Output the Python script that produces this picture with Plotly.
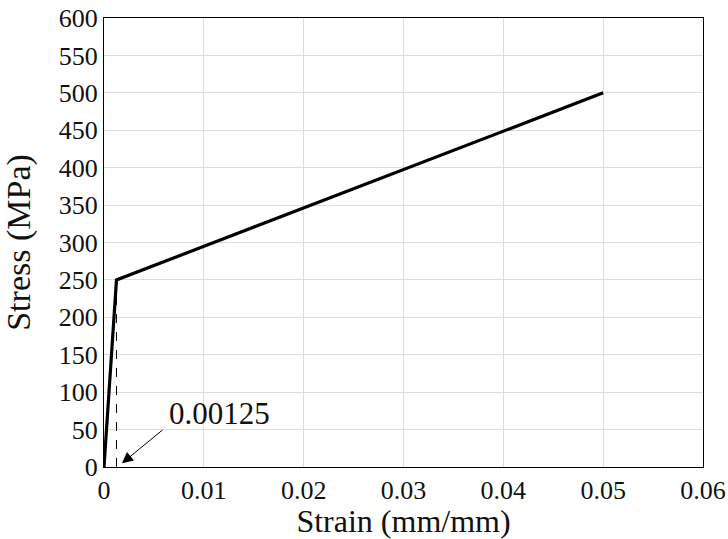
import plotly.graph_objects as go

strain = [0, 0.00125, 0.05]
stress = [0, 250, 500]
yield_strain = [0.00125, 0.00125]
yield_guide = [0, 250]
x_ticks = [0, 0.01, 0.02, 0.03, 0.04, 0.05, 0.06]
x_tick_labels = ["0", "0.01", "0.02", "0.03", "0.04", "0.05", "0.06"]
y_ticks = list(range(0, 601, 50))
annot_label = "0.00125"
arrow_tail = (0.0060, 51)
arrow_head = (0.0018, 5)
label_pos = (0.01152, 72)

FONT = "Liberation Serif"
TXT = "#111111"

fig = go.Figure()
fig.add_trace(go.Scatter(x=yield_strain, y=yield_guide, mode="lines",
                         line=dict(color="black", width=1, dash="dash"),
                         showlegend=False, hoverinfo="skip"))
fig.add_trace(go.Scatter(x=strain, y=stress, mode="lines",
                         line=dict(color="black", width=3.2),
                         showlegend=False))

fig.add_annotation(x=arrow_head[0], y=arrow_head[1], ax=arrow_tail[0], ay=arrow_tail[1],
                   xref="x", yref="y", axref="x", ayref="y", text="",
                   showarrow=True, arrowhead=2, arrowsize=2.2, arrowwidth=1,
                   arrowcolor="black")
fig.add_annotation(x=label_pos[0], y=label_pos[1], xref="x", yref="y",
                   text=annot_label, showarrow=False,
                   font=dict(family=FONT, size=31, color=TXT))

axis_common = dict(showline=True, linecolor="black", linewidth=1, mirror=True,
                   showgrid=True, gridcolor="#dcdcdc", gridwidth=1,
                   zeroline=False, ticks="", automargin=False,
                   tickfont=dict(family=FONT, size=26, color=TXT))

fig.update_xaxes(range=[0, 0.06], tickvals=x_ticks, ticktext=x_tick_labels,
                 ticklabelstandoff=0,
                 title=dict(text="Strain (mm/mm)", standoff=16,
                            font=dict(family=FONT, size=32, color=TXT)),
                 **axis_common)
fig.update_yaxes(range=[0, 600], tickvals=y_ticks,
                 title=dict(text="Stress (MPa)", standoff=20,
                            font=dict(family=FONT, size=34, color=TXT)),
                 **axis_common)

fig.update_layout(width=728, height=539, margin=dict(l=104, r=25, t=18, b=72),
                  plot_bgcolor="white", paper_bgcolor="white")

fig.write_html("out.html", config={"displayModeBar": False},
               post_script="document.body.style.margin='0';document.body.style.overflow='hidden';")
